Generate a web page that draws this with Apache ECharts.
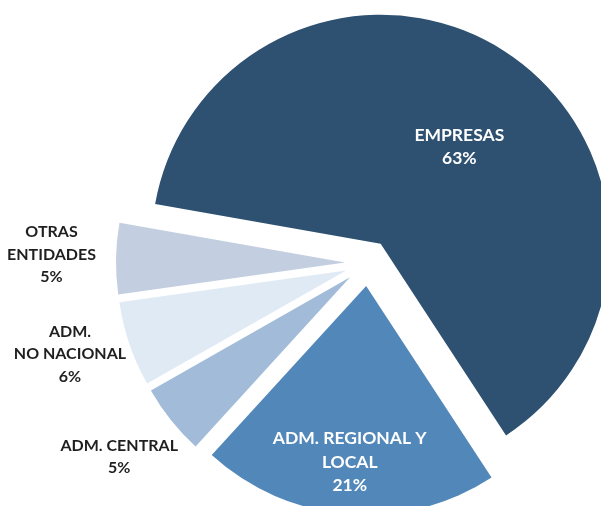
<!DOCTYPE html>
<html>
<head>
<meta charset="utf-8">
<script src="https://cdn.jsdelivr.net/npm/echarts@6.0.0/dist/echarts.min.js"></script>
<style>
  html, body { margin: 0; padding: 0; background: #fff; }
  #chart { width: 601px; height: 506px; }
</style>
</head>
<body>
<div id="chart"></div>
<script>
// slices, clockwise from the upper left edge of EMPRESAS
const categories = ['EMPRESAS', 'ADM. REGIONAL Y\nLOCAL', 'ADM. CENTRAL', 'ADM.\nNO NACIONAL', 'OTRAS\nENTIDADES'];
const shares = [63, 21, 5, 6, 5];

const sliceColors = ['#2e5171', '#5287ba', '#a2bbd8', '#e0eaf4', '#c3cfe1'];
const textColors = ['#ffffff', '#ffffff', '#1f1f1f', '#1f1f1f', '#1f1f1f'];
// nudge each label from its default inside position
const labelShift = [[14, 1], [-7, 59], [-139, 106], [-165, 46], [-176, -6]];

const chart = echarts.init(document.getElementById('chart'));

chart.setOption({
  animation: false,
  series: [
    {
      type: 'pie',
      center: [368, 263],
      radius: [0, 229],
      startAngle: 170,
      clockwise: true,
      selectedMode: 'multiple',
      selectedOffset: 23,
      emphasis: { disabled: true },
      labelLine: { show: false },
      label: {
        position: 'inside',
        fontFamily: 'Lato',
        fontWeight: 'bold',
        fontSize: 17.5,
        lineHeight: 23.5,
        align: 'center',
        formatter: (p) => p.name + '\n' + p.value + '%',
      },
      labelLayout: (p) => ({ dx: labelShift[p.dataIndex][0], dy: labelShift[p.dataIndex][1] }),
      data: categories.map((name, i) => {
        const inside = i < 2;
        return {
          name: name,
          value: shares[i],
          selected: true,
          itemStyle: { color: sliceColors[i] },
          label: {
            color: textColors[i],
            fontSize: inside ? 17.5 : 16,
            lineHeight: inside ? 23.5 : 22.5,
          },
        };
      }),
    },
  ],
});

window.addEventListener('resize', () => chart.resize());
</script>
</body>
</html>
